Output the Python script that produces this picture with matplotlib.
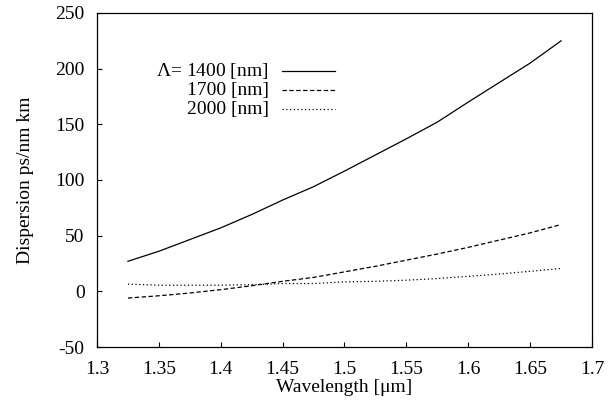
import numpy as np
import matplotlib
matplotlib.use("Agg")
import matplotlib.pyplot as plt

matplotlib.rcParams.update({"font.family": "Liberation Serif", "font.size": 14,
                            "axes.unicode_minus": False,
                            "mathtext.fontset": "custom",
                            "mathtext.rm": "Liberation Serif"})

# Wellenlänge [um] und Dispersion [ps/nm km] für drei Pitch-Werte
wl = [1.325, 1.35, 1.375, 1.4, 1.425, 1.45, 1.475, 1.5, 1.525, 1.55,
      1.575, 1.6, 1.625, 1.65, 1.675]
d_1400 = [27, 36, 46.5, 57, 69, 82, 94, 108, 122.5, 137, 152, 170, 187.5, 205, 225]
d_1700 = [-6, -4, -1.5, 1.5, 5, 9, 12.5, 17.5, 22.5, 28, 33.5, 39.5, 46, 52.5, 60]
d_2000 = [6.5, 5.5, 5.5, 5.5, 6, 7, 7, 8.5, 9, 10, 11.5, 13.5, 15.5, 18, 20.5]
labels = [r"$\Lambda$= 1400 [nm]", "1700 [nm]", "2000 [nm]"]
xticks = [1.3, 1.35, 1.4, 1.45, 1.5, 1.55, 1.6, 1.65, 1.7]
xticklabels = ["1.3", "1.35", "1.4", "1.45", "1.5", "1.55", "1.6", "1.65", "1.7"]
yticks = [-50, 0, 50, 100, 150, 200, 250]

fig = plt.figure(figsize=(6.16, 4.04), dpi=100)
ax = fig.add_axes([97 / 616, 1 - 347 / 404, 495 / 616, 334 / 404])

styles = [dict(ls="-", lw=0.9), dict(ls=(0, (3.5, 2)), lw=0.9), dict(ls=(0, (1, 2)), lw=0.9)]
series = [d_1400, d_1700, d_2000]
for ys, st in zip(series, styles):
    ax.plot(wl, ys, color="black", **st)

# Legende im gnuplot-Stil: Text rechtsbündig, Linie rechts daneben
leg_y = [0.827, 0.769, 0.712]
for lab, st, yy in zip(labels, styles, leg_y):
    ax.text(0.347, yy, lab, transform=ax.transAxes, ha="right", va="center")
    ax.plot([0.374, 0.481], [yy, yy], transform=ax.transAxes, color="black", **st)

ax.set_xlim(1.3, 1.7)
ax.set_ylim(-50, 250)
ax.set_xticks(xticks)
ax.set_xticklabels(xticklabels)
ax.set_yticks(yticks)
ax.tick_params(direction="in", length=3.6, width=0.8, top=False, right=False)
ax.tick_params(axis="y", pad=9)
ax.tick_params(axis="x", pad=10)
for sp in ax.spines.values():
    sp.set_linewidth(0.9)

ax.set_xlabel("Wavelength [μm]", labelpad=1)
ax.set_ylabel("Dispersion ps/nm km", labelpad=15)

plt.savefig("out.png", dpi=100)
